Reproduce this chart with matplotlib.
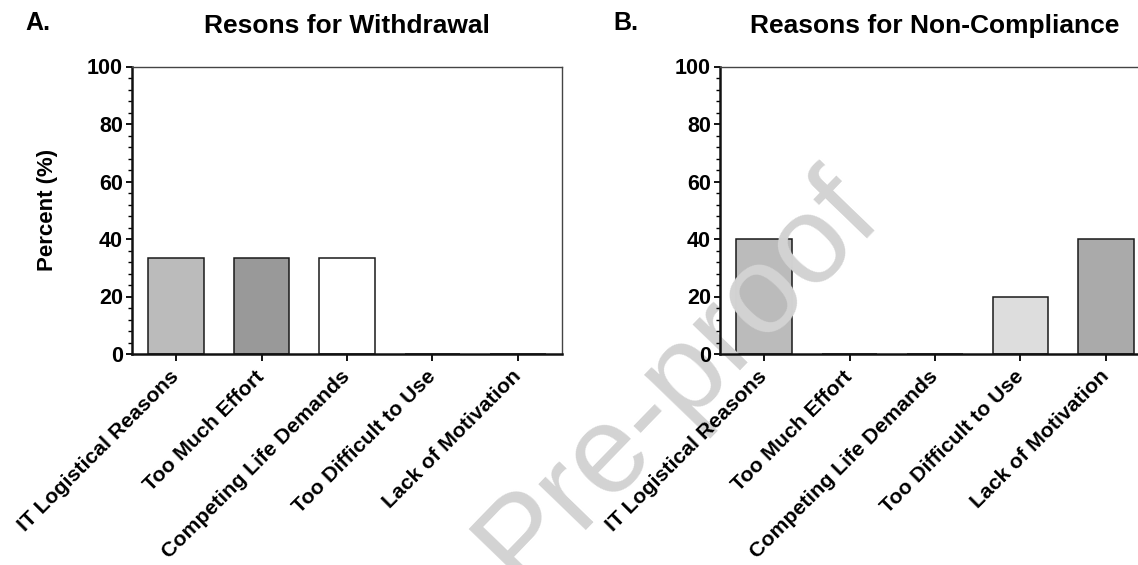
import matplotlib
matplotlib.use("Agg")
import matplotlib.pyplot as plt
from matplotlib.ticker import MultipleLocator

plt.rcParams['font.family'] = ['Liberation Sans', 'DejaVu Sans']
plt.rcParams['font.weight'] = 'bold'

reasons = ["IT Logistical Reasons", "Too Much Effort", "Competing Life Demands",
           "Too Difficult to Use", "Lack of Motivation"]
withdrawal = [33.3, 33.3, 33.3, 0, 0]
non_compliance = [40, 0, 0, 20, 40]
colors_a = ["#bbbbbb", "#999999", "#ffffff", "#dddddd", "#aaaaaa"]
colors_b = ["#bbbbbb", "#999999", "#ffffff", "#dddddd", "#aaaaaa"]

W, H = 1138, 565
fig = plt.figure(figsize=(W / 100, H / 100), dpi=100)
ax1 = fig.add_axes([132 / W, (H - 354) / H, 430 / W, 287.5 / H])
ax2 = fig.add_axes([720 / W, (H - 354) / H, 430 / W, 287.5 / H])


def panel(ax, vals, cols, title, letter, letter_x):
    x = range(len(reasons))
    ax.bar(x, vals, width=0.65, color=cols, edgecolor="#1a1a1a", linewidth=1.1)
    ax.set_xlim(-0.515, 4.515)
    ax.set_ylim(0, 100)
    ax.set_facecolor("none")
    ax.set_xticks(list(x))
    # centre-anchored labels sit a little left of the tick, like GraphPad
    ax.set_xticklabels(reasons, rotation=45, ha="right", va="center",
                       rotation_mode="anchor", fontsize=15.3, fontweight="bold")
    ax.yaxis.set_major_locator(MultipleLocator(20))
    ax.yaxis.set_minor_locator(MultipleLocator(4))
    ax.tick_params(axis="y", which="major", length=4.5, width=1.3, labelsize=15.5, pad=2)
    ax.tick_params(axis="y", which="minor", length=3, width=1.0)
    ax.tick_params(axis="x", which="major", length=5, width=1.3, pad=9)
    for side in ("left", "bottom"):
        ax.spines[side].set_linewidth(1.8)
        ax.spines[side].set_color("#111111")
    for side in ("top", "right"):
        ax.spines[side].set_linewidth(1.0)
        ax.spines[side].set_color("#444444")
    ax.set_title(title, fontsize=19, fontweight="bold", pad=24)
    fig.text(letter_x / W, (H - 30) / H, letter, fontsize=18, fontweight="bold")


panel(ax1, withdrawal, colors_a, "Resons for Withdrawal", "A.", 25)
panel(ax2, non_compliance, colors_b, "Reasons for Non-Compliance", "B.", 613)
ax1.set_ylabel("Percent (%)", fontsize=16, fontweight="bold", labelpad=21)

# watermark
ax2.text(678 / W, (H - 378) / H, "Pre-proof", transform=fig.transFigure,
         fontsize=90, fontweight="normal", color="#d3d3d3", rotation=46,
         ha="center", va="center", clip_on=False, zorder=1.2)

fig.savefig("out.png", dpi=100)
